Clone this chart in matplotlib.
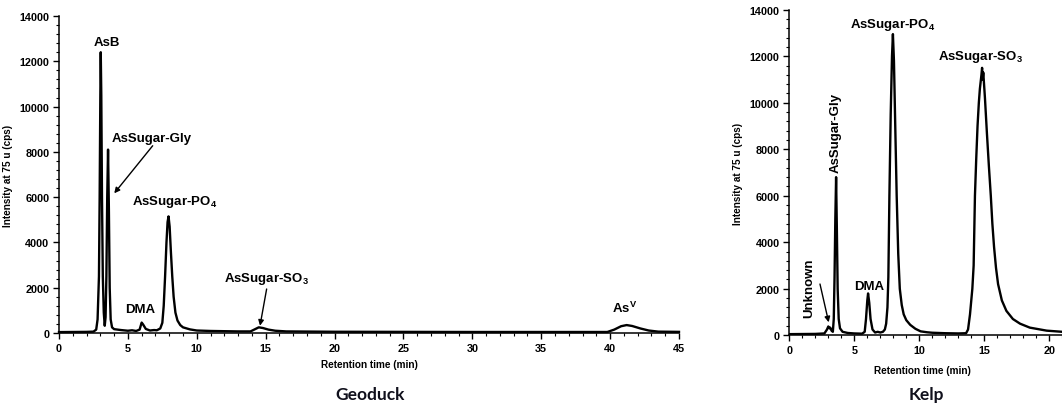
import matplotlib
matplotlib.use("Agg")
import matplotlib.pyplot as plt
from matplotlib.ticker import MultipleLocator

plt.rcParams['font.family'] = ['Liberation Sans', 'DejaVu Sans']
plt.rcParams['mathtext.default'] = 'regular'

# ---- Geoduck chromatogram (retention time in min, intensity in cps) ----
geo_time = [0.0, 1.0, 2.0, 2.5, 2.7, 2.8, 2.9, 2.95, 3.0, 3.03, 3.07, 3.12, 3.18, 3.25, 3.32,
            3.38, 3.44, 3.5, 3.56, 3.62, 3.68, 3.75, 3.85, 4.0, 4.5, 5.0, 5.3, 5.6, 5.85, 6.0,
            6.1, 6.3, 6.6, 6.9, 7.1, 7.35, 7.5, 7.6, 7.7, 7.8, 7.88, 7.95, 8.03, 8.12, 8.22,
            8.32, 8.45, 8.6, 8.8, 9.0, 9.5, 10.0, 11.0, 12.0, 13.0, 13.9, 14.2, 14.5, 14.8,
            15.2, 15.7, 16.5, 20.0, 25.0, 30.0, 35.0, 39.8, 40.3, 40.8, 41.2, 41.6, 42.2,
            42.8, 43.5, 45.0]
geo_int = [40, 45, 50, 60, 150, 600, 2500, 6000, 10500, 12400, 10500, 6000, 2500, 900, 320,
           700, 2500, 6000, 8100, 5500, 2000, 600, 250, 170, 130, 100, 120, 90, 150, 460,
           380, 180, 110, 130, 120, 200, 450, 1200, 2500, 4000, 4900, 5150, 4700, 3600, 2500,
           1600, 900, 550, 350, 250, 160, 110, 90, 80, 70, 70, 160, 250, 220,
           150, 100, 70, 55, 50, 45, 45, 45, 150, 300, 350, 310, 200,
           110, 60, 50]

# ---- Kelp chromatogram ----
kelp_time = [0.0, 1.0, 2.0, 2.7, 2.9, 3.0, 3.08, 3.15, 3.25, 3.35, 3.42, 3.48, 3.54, 3.6,
             3.66, 3.72, 3.8, 3.9, 4.1, 4.5, 5.0, 5.6, 5.8, 5.9, 6.0, 6.06, 6.15, 6.25, 6.4,
             6.6, 6.8, 7.0, 7.2, 7.35, 7.45, 7.55, 7.62, 7.7, 7.8, 7.9, 7.97, 8.05, 8.15,
             8.26, 8.38, 8.5, 8.65, 8.8, 9.0, 9.3, 9.7, 10.1, 10.6, 11.0, 12.0, 13.0, 13.6,
             13.75, 13.9, 14.08, 14.18, 14.28, 14.38, 14.48, 14.58, 14.66, 14.72, 14.78,
             14.83, 14.87, 14.92, 14.98, 15.05, 15.2, 15.35, 15.5, 15.62, 15.75, 15.9,
             16.06, 16.35, 16.7, 17.2, 17.75, 18.5, 19.8, 21.0, 23.0, 25.0]
kelp_int = [50, 55, 60, 80, 250, 380, 300, 330, 200, 150, 700, 2500, 5000, 6800,
            4500, 2000, 700, 300, 150, 100, 80, 70, 150, 700, 1500, 1800, 1400, 700, 250,
            120, 150, 120, 150, 250, 500, 1200, 2500, 6000, 9500, 12000, 12950, 11800, 9000,
            6000, 3500, 2000, 1300, 900, 650, 450, 280, 170, 130, 110, 90, 80, 90,
            250, 900, 2000, 3000, 6000, 7600, 9000, 10000, 10600, 10900, 11200,
            11500, 11000, 11300, 10800, 10200, 8700, 7300, 6000, 4800, 3800, 2900,
            2200, 1500, 1050, 700, 500, 330, 200, 150, 110, 90]

x_ticks_geo = [0, 5, 10, 15, 20, 25, 30, 35, 40, 45]
x_ticks_kelp = [0, 5, 10, 15, 20]
y_ticks = [0, 2000, 4000, 6000, 8000, 10000, 12000, 14000]

W, H = 1062, 406
fig = plt.figure(figsize=(W / 100, H / 100), dpi=100)

ax1 = fig.add_axes([59 / W, (H - 334) / H, 620 / W, 317 / H])
ax2 = fig.add_axes([789.3 / W, (H - 336.3) / H, 325 / W, 325.6 / H])

ann_font = dict(fontsize=9.5, fontweight='bold', color='black')


def style(ax, xmax, xticks):
    ax.set_xlim(0, xmax)
    ax.set_ylim(0, 14000)
    ax.set_xticks(xticks)
    ax.set_yticks(y_ticks)
    ax.xaxis.set_minor_locator(MultipleLocator(1))
    ax.yaxis.set_minor_locator(MultipleLocator(400))
    for s in ('top', 'right'):
        ax.spines[s].set_visible(False)
    for s in ('left', 'bottom'):
        ax.spines[s].set_linewidth(1.1)
    ax.tick_params(which='major', direction='out', length=4, width=1.0, pad=3)
    ax.tick_params(which='minor', direction='out', length=2.5, width=0.8)
    for lab in ax.get_xticklabels() + ax.get_yticklabels():
        lab.set_fontsize(7.8)
        lab.set_fontweight('bold')
    ax.set_ylabel('Intensity at 75 u (cps)', fontsize=7.2, fontweight='bold')
    ax.set_xlabel('Retention time (min)', fontsize=7.2, fontweight='bold')


ax1.plot(geo_time, geo_int, color='black', lw=1.7, clip_on=False)
style(ax1, 45, x_ticks_geo)
ax1.yaxis.set_label_coords(-46 / 620, 0.5)
ax1.xaxis.set_label_coords(0.5, -26 / 317)

ax2.plot(kelp_time, kelp_int, color='black', lw=1.7)
style(ax2, 25, x_ticks_kelp)
ax2.yaxis.set_label_coords(-46 / 325, 0.5)
ax2.xaxis.set_label_coords((922.7 - 789.3) / 325, -30 / 325.6)

arrow = dict(arrowstyle='-|>', lw=1.0, color='black', mutation_scale=8, shrinkA=0, shrinkB=0)

# Geoduck annotations
ax1.text(3.5, 12850, 'AsB', ha='center', va='center', **ann_font)
ax1.text(6.75, 8600, 'AsSugar-Gly', ha='center', va='center', **ann_font)
ax1.annotate('', xy=(4.01, 6170), xytext=(6.8, 8270), arrowprops=arrow)
ax1.text(8.42, 5850, 'AsSugar-PO$_4$', ha='center', va='center', **ann_font)
ax1.text(5.88, 1060, 'DMA', ha='center', va='center', **ann_font)
ax1.text(15.07, 2430, 'AsSugar-SO$_3$', ha='center', va='center', **ann_font)
ax1.annotate('', xy=(14.59, 322), xytext=(15.07, 1943), arrowprops=arrow)
ax1.text(41.07, 1135, 'As$^V$', ha='center', va='center', **ann_font)

# Kelp annotations
ax2.text(7.96, 13384, 'AsSugar-PO$_4$', ha='center', va='center', **ann_font)
ax2.text(14.73, 11995, 'AsSugar-SO$_3$', ha='center', va='center', **ann_font)
ax2.text(3.6, 8727, 'AsSugar-Gly', ha='center', va='center', rotation=90, **ann_font)
ax2.text(6.11, 2107, 'DMA', ha='center', va='center', **ann_font)
ax2.text(1.53, 2047, 'Unknown', ha='center', va='center', rotation=90, **ann_font)
ax2.annotate('', xy=(3.03, 559), xytext=(2.36, 2205), arrowprops=arrow)

# Panel captions
fig.text(370 / W, 1 - 395 / H, 'Geoduck', ha='center', va='center', fontsize=12.5,
         fontweight='bold', family=['Lato', 'DejaVu Sans'], color='#10101c')
fig.text(926 / W, 1 - 395 / H, 'Kelp', ha='center', va='center', fontsize=12.5,
         fontweight='bold', family=['Lato', 'DejaVu Sans'], color='#10101c')

fig.savefig('out.png', dpi=100)
